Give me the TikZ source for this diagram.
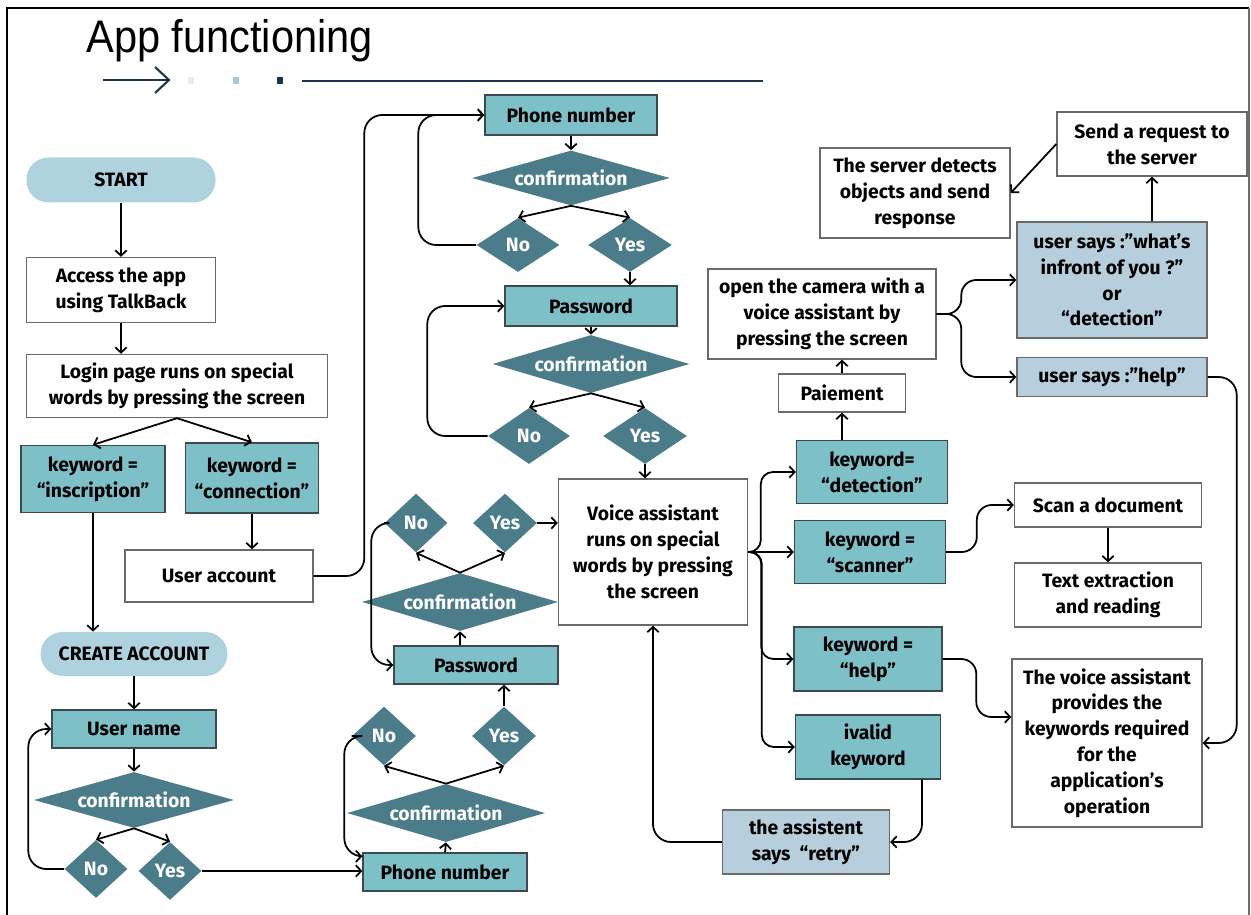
\documentclass[tikz,border=0pt]{standalone}
\usepackage{fontspec}
\usepackage{graphicx}
\setmainfont{Fira Sans}
\newfontfamily\titlefont{Liberation Sans}
\usetikzlibrary{shapes.geometric,arrows.meta,calc}
\definecolor{tealbox}{HTML}{7EC0C8}
\definecolor{diac}{HTML}{4A7D89}
\definecolor{pillc}{HTML}{AED2DE}
\definecolor{lightbox}{HTML}{B7CFDC}
\definecolor{bdark}{HTML}{3A4A50}
\definecolor{bgray}{HTML}{6A6A6A}
\definecolor{navy}{HTML}{1E3350}
\definecolor{dotA}{HTML}{E4EEEA}
\definecolor{dotB}{HTML}{A9C9D9}
\begin{document}
\begin{tikzpicture}[x=0.02cm,y=-0.02cm,
  every node/.style={font=\bfseries\fontsize{11}{14.7}\selectfont, align=center, inner sep=0pt},
  sz/.style 2 args={minimum width=#1*0.02cm, minimum height=#2*0.02cm},
  wbox/.style={draw=bgray, line width=0.8pt, fill=white},
  tbox/.style={draw=bdark, line width=0.8pt, fill=tealbox},
  lbox/.style={draw=bgray, line width=0.8pt, fill=lightbox},
  pill/.style={fill=pillc, rounded corners=0.44cm},
  dia/.style={diamond, fill=diac, text=white, shape aspect=#1},
  arr/.style={-{Straight Barb[length=3pt,width=6.5pt]}, line width=1pt, rounded corners=0.36cm},
]
\useasboundingbox (0,0) rectangle (1251,915);
% frame
\draw[black, line width=1.3pt] (7,915) -- (7,8) -- (1249,8);
\draw[bgray, line width=0.8pt] (1249,8) -- (1249,915);

% title
\node[anchor=base west, font=\titlefont\fontsize{26}{30}\selectfont] (title) at (86,53) {\scalebox{0.91}[1]{App functioning}};
\draw[navy, line width=1.2pt] (103,80) -- (168,80);
\draw[navy, line width=1.2pt] (155,67) -- (169,80) -- (155,93);
\fill[dotA] (188,77) rectangle (194,84);
\fill[dotB] (233,77) rectangle (239,84);
\fill[navy] (277,77) rectangle (283,84);
\draw[navy, line width=1.6pt] (302,81) -- (627,81);
\draw[navy, line width=1pt] (627,81) -- (763,81);

% left column
\node[pill, sz={189}{45}] (start) at (121,180) {START};
\node[wbox, sz={189}{65}] (access) at (121,290) {Access the app\\using TalkBack};
\node[wbox, sz={301}{63}] (login) at (177,386) {Login page runs on special\\words by pressing the screen};
\node[tbox, sz={144}{67}] (kwins) at (93,479) {keyword =\\“inscription”};
\node[tbox, sz={133}{70}] (kwcon) at (252,478) {keyword =\\“connection”};
\node[wbox, sz={188}{52}] (uacc) at (219,576) {User account};
\node[pill, sz={187}{44}] (create) at (134,654) {CREATE ACCOUNT};
\node[tbox, sz={164}{38}] (uname) at (134,729) {User name};
\node[dia=3.57, sz={200}{56}] (conf1) at (134,800) {confirmation};
\node[dia=1.08, sz={63}{58}] (no1) at (96,869) {No};
\node[dia=1.08, sz={63}{58}] (yes1) at (170,871) {Yes};

% bottom middle
\node[tbox, sz={164}{38}] (phone1) at (445,872) {Phone number};
\node[dia=3.41, sz={198}{58}] (conf2) at (446,813) {confirmation};
\node[dia=1.08, sz={64}{59}] (no2) at (384,736) {No};
\node[dia=1.08, sz={64}{59}] (yes2) at (504,736) {Yes};
\node[tbox, sz={164}{38}] (pass1) at (476,665) {Password};
\node[dia=3.38, sz={196}{58}] (conf3) at (460,602) {confirmation};
\node[dia=1.07, sz={63}{59}] (no3) at (416,523) {No};
\node[dia=1.08, sz={64}{59}] (yes3) at (505,523) {Yes};
\node[wbox, sz={189}{146}] (voice) at (653,552) {Voice assistant\\runs on special\\words by pressing\\the screen};

% top middle
\node[tbox, sz={172}{40}] (phone2) at (571,115) {Phone number};
\node[dia=3.6, sz={198}{55}] (conf4) at (571,178) {confirmation};
\node[dia=1.54, sz={83}{54}] (no4) at (518,245) {No};
\node[dia=1.55, sz={84}{54}] (yes4) at (630,245) {Yes};
\node[tbox, sz={172}{40}] (pass2) at (591,306) {Password};
\node[dia=3.4, sz={197}{58}] (conf5) at (591,364) {confirmation};
\node[dia=1.46, sz={82}{56}] (no5) at (529,436) {No};
\node[dia=1.5, sz={84}{56}] (yes5) at (645,436) {Yes};

% right part
\node[tbox, sz={151}{63}] (kwdet) at (872,472) {keyword=\\“detection”};
\node[wbox, sz={127}{38}] (paie) at (842,393) {Paiement};
\node[wbox, sz={228}{90}] (camera) at (822,314) {open the camera with a\\voice assistant by\\pressing the screen};
\node[wbox, sz={190}{90}] (server) at (915,193) {The server detects\\objects and send\\response};
\node[wbox, sz={190}{64}] (send) at (1152,144) {Send a request to\\the server};
\node[lbox, sz={190}{116}] (usaysw) at (1112,280) {user says :”what’s\\infront of you ?”\\or\\“detection”};
\node[lbox, sz={190}{39}] (usaysh) at (1112,377) {user says :”help”};
\node[tbox, sz={151}{63}] (kwscan) at (870,552) {keyword =\\“scanner”};
\node[wbox, sz={187}{44}] (scan) at (1108,505) {Scan a document};
\node[wbox, sz={187}{64}] (textx) at (1108,595) {Text extraction\\and reading};
\node[tbox, sz={148}{64}] (kwhelp) at (868,659) {keyword =\\“help”};
\node[wbox, sz={190}{168}] (provide) at (1107,743) {The voice assistant\\provides the\\keywords required\\for the\\application's\\operation};
\node[tbox, sz={145}{64}] (invalid) at (868,747) {ivalid\\keyword};
\node[lbox, sz={167}{64}] (retry) at (806,842) {the assistent\\says\ \ “retry”};

% connectors left
\draw[arr] (start) -- (access);
\draw[arr] (access.south) -- (access.south |- login.north);
\draw[arr] (login.south) -- (kwins.north);
\draw[arr] (login.south) -- (kwcon.north);
\draw[arr] (kwcon.south) -- (kwcon.south |- uacc.north);
\draw[arr] (kwins.south) -- (kwins.south |- create.north);
\draw[arr] (uacc.east) -| ($(phone2.west)+(-120,0)$) -- (phone2.west);
\draw[arr] (create) -- (uname);
\draw[arr] (uname) -- (conf1);
\draw[arr] (conf1.south) -- (no1.north);
\draw[arr] (conf1.south) -- (yes1.north);
\draw[arr] (no1.west) -| ($(uname.west)+(-23,0)$) -- (uname.west);
\draw[arr] (yes1.east) -- (yes1.east -| phone1.west);

% bottom middle connectors
\draw[arr] (phone1.north) -- (conf2.south);
\draw[arr] (conf2.north) -- (no2.south);
\draw[arr] (conf2.north) -- (yes2.south);
\draw[arr] (yes2.north) -- (yes2.north |- pass1.south);
\draw[arr] (no2.west) -| ($(phone1.north west)+(-18,4)$) -- ($(phone1.north west)+(0,4)$);
\draw[arr] (conf3.south |- pass1.north) -- (conf3.south);
\draw[arr] (conf3.north) -- (no3.south);
\draw[arr] (conf3.north) -- (yes3.south);
\draw[arr] (no3.west) -| ($(pass1.west)+(-22,0)$) -- (pass1.west);
\draw[arr] (yes3.east) -- (yes3.east -| voice.west);

% top middle connectors
\draw[arr] (no4.west) -| ($(phone2.west)+(-66,0)$) -- (phone2.west);
\draw[arr] (phone2) -- (conf4);
\draw[arr] (conf4.south) -- (no4.north);
\draw[arr] (conf4.south) -- (yes4.north);
\draw[arr] (yes4.south) -- (yes4.south |- pass2.north);
\draw[arr] (pass2) -- (conf5);
\draw[arr] (conf5.south) -- (no5.north);
\draw[arr] (conf5.south) -- (yes5.north);
\draw[arr] (no5.west) -| ($(pass2.west)+(-77,0)$) -- (pass2.west);
\draw[arr] (yes5.south) -- (yes5.south |- voice.north);

% right connectors
\draw[arr, rounded corners=0.24cm] (voice.east) -| ($(kwdet.west)+(-35,0)$) -- (kwdet.west);
\draw[arr] (voice.east) -- (kwscan.west);
\draw[arr, rounded corners=0.24cm] (voice.east) -| ($(kwhelp.west)+(-32,0)$) -- (kwhelp.west);
\draw[arr, rounded corners=0.24cm] (voice.east) -| ($(invalid.west)+(-33,0)$) -- (invalid.west);
\draw[arr] (paie.south |- kwdet.north) -- (paie.south);
\draw[arr] (paie.north) -- (paie.north |- camera.south);
\draw[arr, rounded corners=0.3cm] (camera.east) -| ($(usaysw.west)+(-55,0)$) -- (usaysw.west);
\draw[arr, rounded corners=0.3cm] (camera.east) -| ($(usaysh.west)+(-55,0)$) -- (usaysh.west);
\draw[arr] (send.south |- usaysw.north) -- (send.south);
\draw[arr] (send.west) -- (server.east);
\draw[arr, rounded corners=0.3cm] (kwscan.east) -| ($(scan.west)+(-37,0)$) -- (scan.west);
\draw[arr] (scan) -- (textx);
\draw[arr, rounded corners=0.3cm] (kwhelp.east) -| ($(provide.west)+(-35,-26)$) -- ($(provide.west)+(0,-26)$);
\draw[arr] (usaysh.east) -| ($(provide.east)+(34,0)$) -- (provide.east);
\draw[arr] ($(invalid.south)+(54,0)$) |- (retry.east);
\draw[arr] (retry.west) -| (voice.south);
\end{tikzpicture}
\end{document}
